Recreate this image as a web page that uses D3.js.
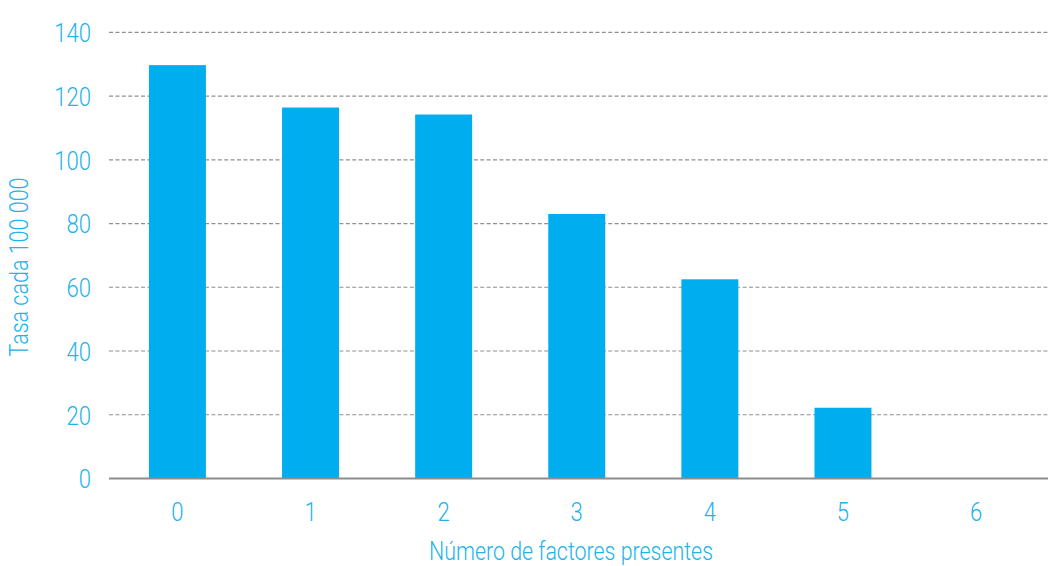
<!DOCTYPE html>
<html>
<head>
<meta charset="utf-8">
<script src="https://cdn.jsdelivr.net/npm/d3@7"></script>
<style>
  html, body { margin: 0; padding: 0; background: #fff; }
  svg text { font-family: "Roboto", "DejaVu Sans Condensed", "Liberation Sans", sans-serif; font-weight: 300; fill: #22b3ec; }
</style>
</head>
<body>
<svg id="chart" width="1048" height="566"></svg>
<script>
const categories = ["0", "1", "2", "3", "4", "5", "6"];
const values = [129.7, 116.4, 114.2, 83, 62.5, 22.2, 0];
const yTicks = [0, 20, 40, 60, 80, 100, 120, 140];
const xTitle = "Número de factores presentes";
const yTitle = "Tasa cada 100 000";

const svg = d3.select("#chart");
const W = 1048, H = 566;
const left = 109;

const x = d3.scaleBand().domain(categories).range([109, 1044.5]).paddingInner(0.572).paddingOuter(0.3);
const y = d3.scaleLinear().domain([0, 140]).range([478.5, 32.3]);

function narrow(sel, k) {
  sel.each(function () {
    const len = this.getComputedTextLength();
    d3.select(this).attr("textLength", len * k).attr("lengthAdjust", "spacingAndGlyphs");
  });
}

// gridlines
svg.append("g").selectAll("line").data(yTicks.filter(d => d > 0)).join("line")
  .attr("x1", left).attr("x2", W)
  .attr("y1", d => y(d)).attr("y2", d => y(d))
  .attr("stroke", "#8f8f8f").attr("stroke-width", 1.2).attr("stroke-dasharray", "4,2.4");

// bars
svg.append("g").selectAll("rect").data(values).join("rect")
  .attr("x", (d, i) => x(categories[i]))
  .attr("width", x.bandwidth())
  .attr("y", d => y(d))
  .attr("height", d => y(0) - y(d))
  .attr("fill", "#00aeef");

// x axis line
svg.append("line").attr("x1", left).attr("x2", W)
  .attr("y1", y(0)).attr("y2", y(0)).attr("stroke", "#8c8c8c").attr("stroke-width", 2);

// y tick labels
const yAxis = d3.axisLeft(y).tickValues(yTicks).tickSize(0).tickPadding(18);
const gy = svg.append("g").attr("transform", `translate(${left},0)`).call(yAxis);
gy.select(".domain").remove();
gy.selectAll("text").attr("font-size", 26).attr("dy", "0.36em").style("font-family", null).attr("font-family", null);
narrow(gy.selectAll("text"), 0.85);

// x tick labels
const xAxis = d3.axisBottom(x).tickSize(0).tickPadding(24);
const gx = svg.append("g").attr("transform", `translate(0,${y(0)})`).call(xAxis);
gx.select(".domain").remove();
gx.selectAll("text").attr("font-size", 26).style("font-family", null).attr("font-family", null);
narrow(gx.selectAll("text"), 0.85);

// axis titles
const xt = svg.append("text").attr("x", 571).attr("y", 560)
  .attr("text-anchor", "middle").attr("font-size", 25).text(xTitle);
xt.attr("textLength", 284).attr("lengthAdjust", "spacingAndGlyphs");
const yt = svg.append("text").attr("transform", `translate(28,267) rotate(-90)`)
  .attr("text-anchor", "middle").attr("font-size", 25).text(yTitle);
yt.attr("textLength", 179).attr("lengthAdjust", "spacingAndGlyphs");
</script>
</body>
</html>
